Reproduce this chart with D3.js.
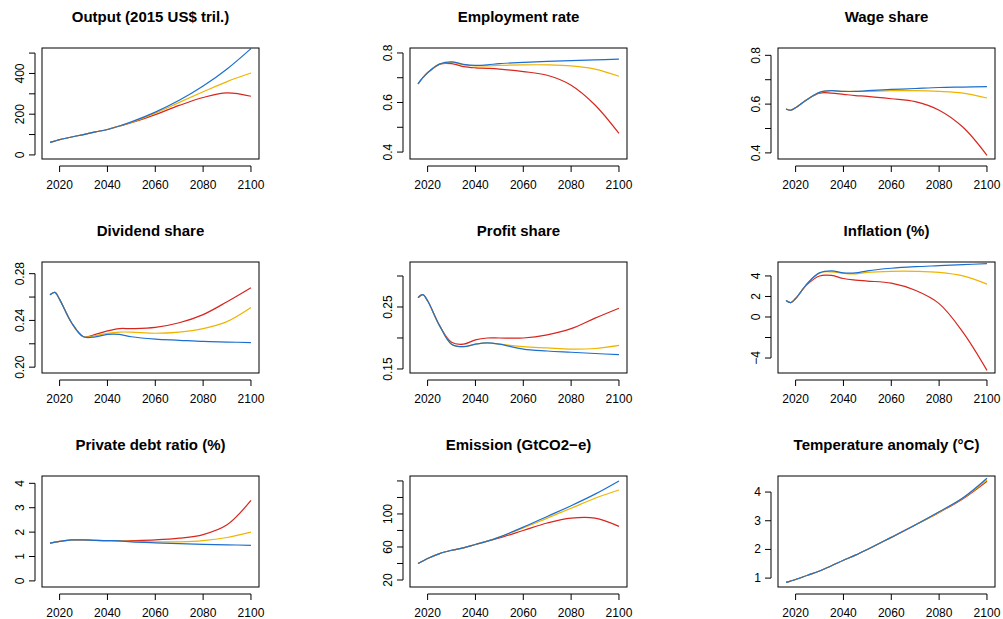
<!DOCTYPE html>
<html>
<head>
<meta charset="utf-8">
<script src="https://cdn.jsdelivr.net/npm/d3@7"></script>
<style>
  body { margin: 0; background: #fff; }
  text { font-family: "Liberation Sans", Arial, sans-serif; }
</style>
</head>
<body>
<svg id="chart" width="1003" height="619"></svg>
<script>
// common time points
var years = [2016, 2018, 2020, 2025, 2030, 2035, 2040, 2045, 2050, 2060, 2070, 2080, 2090, 2100];

// scenario series (red, orange, blue)
var outRed    = [62, 68, 75, 88, 100, 113, 125, 142, 158, 198, 243, 282, 305, 288];
var outOrange = [62, 68, 75, 88, 100, 113, 125, 142, 160, 205, 258, 310, 360, 402];
var outBlue   = [62, 68, 75, 88, 100, 113, 125, 142, 162, 210, 268, 338, 422, 522];

var empRed    = [.675, .70, .72, .755, .757, .745, .74, .738, .735, .725, .71, .67, .59, .475];
var empOrange = [.675, .70, .72, .755, .762, .752, .748, .748, .75, .752, .752, .748, .735, .706];
var empBlue   = [.675, .70, .72, .755, .764, .754, .75, .752, .757, .762, .766, .769, .772, .775];

var wageRed    = [.58, .575, .585, .62, .645, .645, .64, .635, .632, .622, .61, .575, .505, .39];
var wageOrange = [.58, .575, .585, .62, .648, .655, .652, .652, .652, .655, .655, .652, .645, .625];
var wageBlue   = [.58, .575, .585, .62, .648, .655, .652, .652, .655, .66, .664, .668, .67, .672];

var divRed    = [.262, .264, .258, .238, .226, .228, .231, .233, .233, .234, .238, .245, .256, .268];
var divOrange = [.262, .264, .258, .238, .226, .227, .229, .23, .23, .229, .230, .233, .239, .251];
var divBlue   = [.262, .264, .258, .238, .226, .226, .228, .228, .226, .224, .223, .222, .2215, .221];

var profRed    = [.265, .27, .26, .22, .193, .19, .197, .2, .2, .2, .205, .215, .232, .248];
var profOrange = [.265, .27, .26, .22, .19, .186, .19, .192, .19, .186, .184, .182, .183, .188];
var profBlue   = [.265, .27, .26, .22, .19, .186, .19, .192, .19, .182, .179, .177, .175, .173];

var infRed    = [1.6, 1.4, 1.8, 3.2, 4.0, 4.05, 3.75, 3.6, 3.5, 3.3, 2.6, 1.3, -1.5, -5.2];
var infOrange = [1.6, 1.4, 1.8, 3.3, 4.3, 4.4, 4.25, 4.2, 4.35, 4.45, 4.45, 4.35, 4.0, 3.2];
var infBlue   = [1.6, 1.4, 1.8, 3.3, 4.3, 4.5, 4.3, 4.3, 4.5, 4.75, 4.9, 5.0, 5.1, 5.2];

var debtRed    = [1.55, 1.59, 1.62, 1.68, 1.68, 1.66, 1.65, 1.64, 1.65, 1.68, 1.75, 1.9, 2.3, 3.3];
var debtOrange = [1.55, 1.59, 1.62, 1.68, 1.68, 1.66, 1.65, 1.64, 1.62, 1.6, 1.6, 1.65, 1.78, 2.0];
var debtBlue   = [1.55, 1.59, 1.62, 1.68, 1.68, 1.66, 1.65, 1.64, 1.6, 1.56, 1.53, 1.5, 1.48, 1.46];

var emRed    = [40, 43, 46, 52, 56, 59, 63, 67, 71, 80, 89, 95, 95, 85];
var emOrange = [40, 43, 46, 52, 56, 59, 63, 67, 72, 83, 95, 107, 119, 129];
var emBlue   = [40, 43, 46, 52, 56, 59, 63, 67, 72, 84, 97, 110, 124, 140];

var tempRed    = [.85, .9, .95, 1.1, 1.25, 1.43, 1.62, 1.8, 2.0, 2.42, 2.85, 3.29, 3.77, 4.38];
var tempOrange = [.85, .9, .95, 1.1, 1.25, 1.43, 1.62, 1.8, 2.0, 2.42, 2.85, 3.3, 3.79, 4.42];
var tempBlue   = [.85, .9, .95, 1.1, 1.25, 1.43, 1.62, 1.8, 2.0, 2.42, 2.85, 3.31, 3.8, 4.48];

var xTicks = [2020, 2040, 2060, 2080, 2100];
var colors = ["#d7261e", "#f0b400", "#1c6fd0"];

var panels = [
  {title: "Output (2015 US$ tril.)", series: [outRed, outOrange, outBlue], domain: [-20, 525], ticks: [0, 100, 200, 300, 400, 500], labels: [0, 200, 400]},
  {title: "Employment rate", series: [empRed, empOrange, empBlue], domain: [0.372, 0.82], ticks: [0.4, 0.5, 0.6, 0.7, 0.8], labels: [0.4, 0.6, 0.8]},
  {title: "Wage share", series: [wageRed, wageOrange, wageBlue], domain: [0.375, 0.83], ticks: [0.4, 0.5, 0.6, 0.7, 0.8], labels: [0.4, 0.6, 0.8]},
  {title: "Dividend share", series: [divRed, divOrange, divBlue], domain: [0.195, 0.29], ticks: [0.20, 0.22, 0.24, 0.26, 0.28], labels: [0.20, 0.24, 0.28], fmt: ".2f"},
  {title: "Profit share", series: [profRed, profOrange, profBlue], domain: [0.1435, 0.3226], ticks: [0.15, 0.20, 0.25, 0.30], labels: [0.15, 0.25], fmt: ".2f"},
  {title: "Inflation (%)", series: [infRed, infOrange, infBlue], domain: [-5.46, 5.36], ticks: [-4, -2, 0, 2, 4], labels: [-4, 0, 2, 4]},
  {title: "Private debt ratio (%)", series: [debtRed, debtOrange, debtBlue], domain: [-0.25, 4.3], ticks: [0, 1, 2, 3, 4], labels: [0, 1, 2, 3, 4]},
  {title: "Emission (GtCO2\u2212e)", series: [emRed, emOrange, emBlue], domain: [11.5, 146], ticks: [20, 40, 60, 80, 100, 120, 140], labels: [20, 60, 100]},
  {title: "Temperature anomaly (\u00b0C)", series: [tempRed, tempOrange, tempBlue], domain: [0.69, 4.56], ticks: [1, 2, 3, 4], labels: [1, 2, 3, 4], flat: true}
];

var svg = d3.select("#chart");
var boxW = 217, boxH = 111;

panels.forEach(function (p, i) {
  var col = i % 3, row = Math.floor(i / 3);
  var left = 42 + col * 368, top = 48 + row * 214;
  var g = svg.append("g").attr("transform", "translate(" + left + "," + top + ")");

  var x = d3.scaleLinear().domain([2012.64, 2103.36]).range([0, boxW]);
  var y = d3.scaleLinear().domain(p.domain).range([boxH, 0]);

  g.append("text").attr("x", boxW / 2).attr("y", -26)
    .attr("text-anchor", "middle").attr("font-size", 15).attr("font-weight", "bold")
    .text(p.title);

  var line = d3.line().x(function (d, k) { return x(years[k]); }).y(function (d) { return y(d); })
    .curve(d3.curveCatmullRom.alpha(0.5));
  p.series.forEach(function (s, k) {
    g.append("path").attr("d", line(s)).attr("fill", "none")
      .attr("stroke", colors[k]).attr("stroke-width", 1.2);
  });

  g.append("rect").attr("width", boxW).attr("height", boxH)
    .attr("fill", "none").attr("stroke", "#000").attr("stroke-width", 1);

  // x axis
  var xa = g.append("g").attr("transform", "translate(0," + (boxH + 7) + ")");
  xa.append("line").attr("x1", x(2020)).attr("x2", x(2100)).attr("stroke", "#000");
  xTicks.forEach(function (t) {
    xa.append("line").attr("x1", x(t)).attr("x2", x(t)).attr("y1", 0).attr("y2", 6).attr("stroke", "#000");
    xa.append("text").attr("x", x(t)).attr("y", 23).attr("text-anchor", "middle")
      .attr("font-size", 12).text(t);
  });

  // y axis
  var ya = g.append("g").attr("transform", "translate(-7,0)");
  var tk = p.ticks.filter(function (t) { return t >= p.domain[0] && t <= p.domain[1]; });
  ya.append("line").attr("y1", y(d3.min(tk))).attr("y2", y(d3.max(tk))).attr("stroke", "#000");
  var f = p.fmt ? d3.format(p.fmt) : function (v) { return String(v).replace("-", "\u2212"); };
  tk.forEach(function (t) {
    ya.append("line").attr("x1", 0).attr("x2", -6).attr("y1", y(t)).attr("y2", y(t)).attr("stroke", "#000");
  });
  p.labels.forEach(function (t) {
    if (p.flat) {
      ya.append("text").attr("x", -10).attr("y", y(t) + 4)
        .attr("text-anchor", "end").attr("font-size", 12).text(f(t));
    } else {
      ya.append("text").attr("transform", "translate(-11," + y(t) + ") rotate(-90)")
        .attr("text-anchor", "middle").attr("font-size", 12).text(f(t));
    }
  });
});
</script>
</body>
</html>
